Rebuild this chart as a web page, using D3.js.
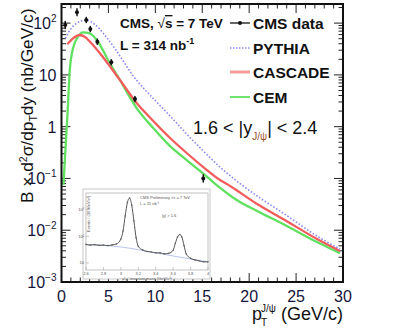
<!DOCTYPE html>
<html>
<head>
  <meta charset="utf-8">
  <title>J/psi pT spectrum</title>
  <script src="https://d3js.org/d3.v7.min.js"></script>
  <style>
    body { margin: 0; background: #fff; }
    svg { display: block; font-family: "Liberation Sans", Arial, sans-serif; }
    .tickLabel { font-size: 16px; fill: #15153a; }
    .legend { font-size: 15.5px; font-weight: bold; fill: #111; }
    .inset text { fill: #555; font-size: 4px; }
  </style>
</head>
<body>
<div id="chart"></div>
<script>

// CMS measured points
var dataPt  = [0.40, 1.65, 2.64, 3.07, 3.82, 5.31, 7.83, 15.11];
var dataVal = [92, 162, 115, 77, 43.7, 17.5, 3.42, 0.10];
var dataErr = [0.2, 0.2, 0.15, 0.15, 0.15, 0.15, 0.15, 0.2];

// model curves
var pythiaPt  = [0.40, 1.04, 2.11, 2.64, 3.54, 4.60, 5.67, 6.74, 7.65, 8.69, 9.78, 11.57, 13.34, 15.11, 16.89, 18.67, 21.16, 23.61, 27.23, 29.68];
var pythiaVal = [50.8, 79.4, 110, 115, 94.8, 58.9, 32.6, 16.7, 9.51, 5.70, 3.50, 1.61, 0.721, 0.339, 0.166, 0.0893, 0.0419, 0.0215, 0.00772, 0.00434];

var cascadePt  = [0.62, 1.23, 1.94, 2.47, 3.18, 4.24, 5.31, 6.23, 8.01, 9.78, 11.57, 13.34, 15.11, 16.89, 17.96, 20.84, 23.61, 27.23, 29.68];
var cascadeVal = [39.0, 50.8, 58.9, 54.6, 40.7, 24.2, 13.4, 7.96, 2.86, 1.29, 0.604, 0.310, 0.166, 0.0933, 0.0715, 0.0321, 0.0165, 0.00676, 0.00397];

var cemPt  = [0.21, 0.69, 0.87, 1.23, 1.76, 2.29, 3.01, 3.89, 4.96, 6.23, 8.01, 9.78, 11.57, 13.34, 15.11, 16.54, 18.67, 20.84, 23.61, 27.23, 29.68];
var cemVal = [0.075, 2.6, 11.5, 32.6, 54.6, 66.4, 63.5, 43.7, 19.4, 7.96, 2.29, 0.94, 0.42, 0.227, 0.124, 0.0746, 0.0384, 0.0235, 0.0132, 0.0059, 0.0036];

// axis ticks
var xTicks = [0, 5, 10, 15, 20, 25, 30];
var yTicks = [1e-3, 1e-2, 1e-1, 1, 10, 100];
var yTickBase = ["10", "10", "10", "1", "10", "10"];
var yTickExp  = ["-3", "-2", "-1", "", "", "2"];

// inset: dimuon mass spectrum
var massVal   = [2.60, 2.65, 2.70, 2.75, 2.80, 2.85, 2.90, 2.95, 3.00, 3.025, 3.05, 3.075, 3.10, 3.125, 3.15, 3.175, 3.20, 3.25, 3.30, 3.35, 3.40, 3.45, 3.50, 3.55, 3.60, 3.625, 3.65, 3.675, 3.70, 3.725, 3.75, 3.80, 3.85, 3.90, 3.95, 4.00];
var massCount = [50, 47, 49, 46, 47, 45, 48, 52, 80, 160, 600, 1900, 2800, 1500, 380, 90, 42, 31, 27, 26, 24, 24, 22, 23, 30, 55, 95, 118, 95, 45, 22, 15, 13, 12, 11, 11];
var bgMass  = [2.6, 3.0, 3.4, 3.8, 4.0];
var bgCount = [50, 40, 24, 14, 11];
var massTicks = [2.6, 2.8, 3, 3.2, 3.4, 3.6, 3.8, 4];
var countTicks = [10, 100, 1000];
var countTickLabels = ["10", "10\u00b2", "10\u00b3"];

var W = 400, H = 331;
var margin = { top: 4, right: 57, bottom: 49, left: 61.5 },
  width = W - margin.left - margin.right,
  height = H - margin.top - margin.bottom;

var svg = d3.select("#chart").append("svg")
  .attr("width", W)
  .attr("height", H);

var g = svg.append("g")
  .attr("transform", "translate(" + margin.left + "," + margin.top + ")");

var x = d3.scaleLinear().domain([0, 30]).range([0, width]);
var y = d3.scaleLog().domain([1e-3, 234]).range([height, 0]);

g.append("clipPath").attr("id", "clip")
  .append("rect").attr("width", width).attr("height", height);

// minor ticks
var yMinor = [];
yTicks.forEach(function (t) {
  for (var k = 2; k <= 9; k++) { if (t * k < 234) yMinor.push(t * k); }
});
var xMinor = d3.range(0, 31).filter(function (v) { return v % 5 !== 0; });

var tickG = g.append("g").attr("stroke", "#222").attr("stroke-width", 1);
function tickLines(vals, len, vertical) {
  vals.forEach(function (v) {
    if (vertical) {
      tickG.append("line").attr("x1", 0).attr("x2", len).attr("y1", y(v)).attr("y2", y(v));
      tickG.append("line").attr("x1", width).attr("x2", width - len).attr("y1", y(v)).attr("y2", y(v));
    } else {
      tickG.append("line").attr("y1", height).attr("y2", height - len).attr("x1", x(v)).attr("x2", x(v));
      tickG.append("line").attr("y1", 0).attr("y2", len).attr("x1", x(v)).attr("x2", x(v));
    }
  });
}
tickLines(yTicks, 9, true);
tickLines(yMinor, 4.5, true);
tickLines(xTicks, 9, false);
tickLines(xMinor, 4.5, false);

// tick labels
g.selectAll(".xl").data(xTicks).enter().append("text")
  .attr("class", "tickLabel")
  .attr("x", function (d) { return x(d); })
  .attr("y", height + 20)
  .attr("text-anchor", "middle")
  .text(function (d) { return d; });

yTicks.forEach(function (t, i) {
  var tx = g.append("text").attr("class", "tickLabel")
    .attr("x", -5).attr("y", y(t) + 6).attr("text-anchor", "end");
  tx.append("tspan").text(yTickBase[i]);
  if (yTickExp[i]) {
    tx.append("tspan").attr("dy", -7).attr("font-size", 10).text(yTickExp[i].replace("-", "\u2212"));
  }
});

// axis titles
var xt = svg.append("text").attr("x", 343).attr("y", 320).attr("text-anchor", "end")
  .attr("font-size", 18).attr("fill", "#111");
xt.append("tspan").text("p");
xt.append("tspan").attr("font-size", 10).attr("dy", 6).attr("dx", -1).text("T");
xt.append("tspan").attr("font-size", 10).attr("dy", -14).attr("dx", -6).text("J/\u03c8");
xt.append("tspan").attr("dy", 8).text(" (GeV/c)");

var yt = svg.append("text").attr("transform", "translate(33,203) rotate(-90)")
  .attr("font-size", 17.3).attr("fill", "#111");
yt.append("tspan").text("B \u00d7 d");
yt.append("tspan").attr("font-size", 10.5).attr("dy", -6).text("2");
yt.append("tspan").attr("dy", 6).text("\u03c3/dp");
yt.append("tspan").attr("font-size", 10.5).attr("dy", 4).text("T");
yt.append("tspan").attr("dy", -4).text("dy (nb/GeV/c)");

// inset
var inset = svg.append("g").attr("class", "inset");
inset.append("rect").attr("x", 83).attr("y", 189).attr("width", 127).attr("height", 90)
  .attr("fill", "#fff").attr("stroke", "#bbb").attr("stroke-width", 0.8);
var mx = d3.scaleLinear().domain([2.6, 4.0]).range([86, 208]);
var my = d3.scaleLog().domain([5.4, 4370]).range([270, 193]);
inset.append("rect").attr("x", 86).attr("y", 193).attr("width", 122).attr("height", 77)
  .attr("fill", "none").attr("stroke", "#999").attr("stroke-width", 0.6);
massTicks.forEach(function (m) {
  inset.append("line").attr("x1", mx(m)).attr("x2", mx(m)).attr("y1", 270).attr("y2", 267)
    .attr("stroke", "#999").attr("stroke-width", 0.5);
  inset.append("text").attr("x", mx(m)).attr("y", 275).attr("text-anchor", "middle").text(m);
});
countTicks.forEach(function (c, i) {
  inset.append("line").attr("x1", 86).attr("x2", 89).attr("y1", my(c)).attr("y2", my(c))
    .attr("stroke", "#999").attr("stroke-width", 0.5);
  inset.append("text").attr("x", 84).attr("y", my(c) + 1.5).attr("text-anchor", "end").text(countTickLabels[i]);
});
inset.append("text").attr("x", 147).attr("y", 279.5).attr("text-anchor", "middle")
  .text("\u03bc\u207a\u03bc\u207b invariant mass (GeV/c\u00b2)");
inset.append("text").attr("transform", "translate(90,232) rotate(-90)")
  .text("Events / (20 MeV/c\u00b2)");
inset.append("text").attr("x", 140).attr("y", 199).text("CMS Preliminary  \u221as = 7 TeV");
inset.append("text").attr("x", 140).attr("y", 205).text("L = 15 nb\u207b\u00b9");
inset.append("text").attr("x", 162).attr("y", 217).text("|y| > 1.6");

inset.append("path").datum(d3.zip(bgMass, bgCount))
  .attr("fill", "none").attr("stroke", "#b8c4ee").attr("stroke-width", 1)
  .attr("d", d3.line().curve(d3.curveMonotoneX)
    .x(function (d) { return mx(d[0]); }).y(function (d) { return my(d[1]); }));
inset.append("path").datum(d3.zip(massVal, massCount))
  .attr("fill", "none").attr("stroke", "#555").attr("stroke-width", 1)
  .attr("d", d3.line().curve(d3.curveMonotoneX)
    .x(function (d) { return mx(d[0]); }).y(function (d) { return my(d[1]); }));
inset.selectAll(".mp").data(d3.zip(massVal, massCount)).enter().append("circle")
  .attr("cx", function (d) { return mx(d[0]); })
  .attr("cy", function (d) { return my(d[1]); })
  .attr("r", 0.8).attr("fill", "#666");

// model curves
var line = d3.line().curve(d3.curveMonotoneX)
  .x(function (d) { return x(d[0]); })
  .y(function (d) { return y(d[1]); });
var curves = g.append("g").attr("clip-path", "url(#clip)");
curves.append("path").datum(d3.zip(cemPt, cemVal))
  .attr("fill", "none").attr("stroke", "#5fe05f").attr("stroke-width", 2.3).attr("d", line);
curves.append("path").datum(d3.zip(cascadePt, cascadeVal))
  .attr("fill", "none").attr("stroke", "#f25c5c").attr("stroke-width", 2.3).attr("d", line);
curves.append("path").datum(d3.zip(pythiaPt, pythiaVal))
  .attr("fill", "none").attr("stroke", "#8a8af2").attr("stroke-width", 1.6)
  .attr("stroke-dasharray", "1.6,1.8").attr("d", line);

// data points
var pts = d3.zip(dataPt, dataVal, dataErr);
g.selectAll(".err").data(pts).enter().append("line")
  .attr("x1", function (d) { return x(d[0]); })
  .attr("x2", function (d) { return x(d[0]); })
  .attr("y1", function (d) { return y(d[1] * (1 + d[2])); })
  .attr("y2", function (d) { return y(d[1] / (1 + d[2])); })
  .attr("stroke", "#111").attr("stroke-width", 1.5);
g.selectAll(".pt").data(pts).enter().append("circle")
  .attr("cx", function (d) { return x(d[0]); })
  .attr("cy", function (d) { return y(d[1]); })
  .attr("r", 2).attr("fill", "#111");

// frame
g.append("rect").attr("width", width).attr("height", height)
  .attr("fill", "none").attr("stroke", "#111").attr("stroke-width", 2);

// text annotations
var t1 = svg.append("text").attr("x", 120).attr("y", 28).attr("font-size", 13.5)
  .attr("font-weight", "bold").attr("fill", "#111");
t1.append("tspan").text("CMS, ");
t1.append("tspan").attr("font-weight", "normal").text("\u221a");
t1.append("tspan").attr("style", "text-decoration: overline").text("s");
t1.append("tspan").text(" = 7 TeV");

var t2 = svg.append("text").attr("x", 120).attr("y", 50).attr("font-size", 13.5)
  .attr("font-weight", "bold").attr("fill", "#111");
t2.append("tspan").text("L = 314 nb");
t2.append("tspan").attr("font-size", 9).attr("dy", -6).text("-1");

var t3 = svg.append("text").attr("x", 193).attr("y", 134).attr("font-size", 18).attr("fill", "#111");
t3.append("tspan").text("1.6 < |y");
t3.append("tspan").attr("font-size", 10).attr("dy", 6).attr("fill", "#a0522d").text("J/\u03c8");
t3.append("tspan").attr("dy", -6).text("| < 2.4");

// legend
var legendNames = ["CMS data", "PYTHIA", "CASCADE", "CEM"];
var legendY = [23, 48, 72, 97];
var lg = svg.append("g");
legendNames.forEach(function (name, i) {
  var ly = legendY[i];
  var l = lg.append("line").attr("x1", 230).attr("x2", 250).attr("y1", ly).attr("y2", ly);
  if (i === 0) {
    l.attr("stroke", "#111").attr("stroke-width", 1.3);
    lg.append("circle").attr("cx", 240).attr("cy", ly).attr("r", 2).attr("fill", "#111");
  } else if (i === 1) {
    l.attr("stroke", "#8a8af2").attr("stroke-width", 1.5).attr("stroke-dasharray", "1.5,1.5");
  } else if (i === 2) {
    l.attr("stroke", "#f49a9a").attr("stroke-width", 3);
  } else {
    l.attr("stroke", "#5fe05f").attr("stroke-width", 1.8);
  }
  lg.append("text").attr("class", "legend").attr("x", 253).attr("y", ly + 5.5).text(name);
});

</script>
</body>
</html>
